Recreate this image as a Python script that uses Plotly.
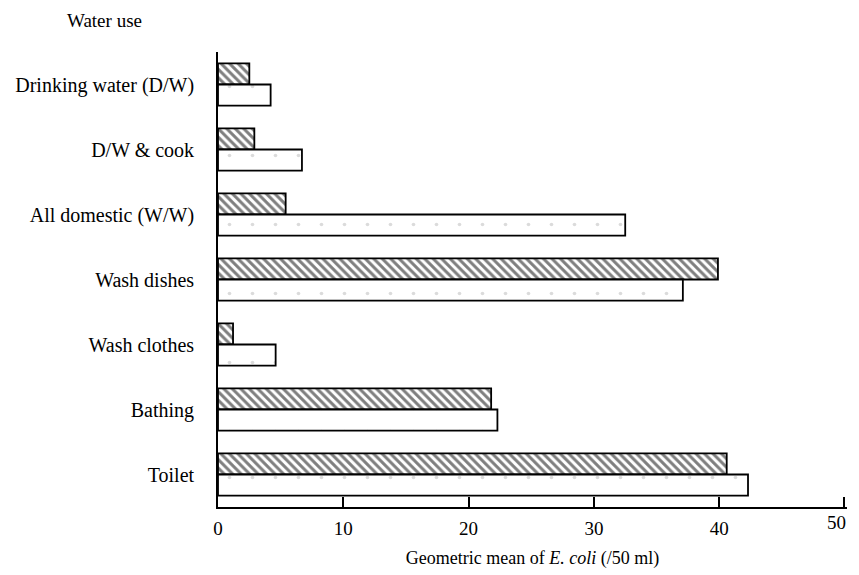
import plotly.graph_objects as go

categories = ["Drinking water (D/W)", "D/W & cook", "All domestic (W/W)", "Wash dishes",
              "Wash clothes", "Bathing", "Toilet"]
hatched_values = [2.5, 2.9, 5.4, 39.9, 1.2, 21.8, 40.6]
plain_values = [4.2, 6.7, 32.5, 37.1, 4.6, 22.3, 42.3]
x_tickvals = [0, 10, 20, 30, 40, 50]
x_ticktext = ["0", "10", "20", "30", "40", "50"]

FONT = "Liberation Serif"

fig = go.Figure()
fig.add_trace(go.Bar(
    y=categories, x=hatched_values, orientation="h", name="hatched",
    marker=dict(color="white", line=dict(color="black", width=1.8),
                pattern=dict(shape="\\", fgcolor="black", bgcolor="white",
                             size=6, solidity=0.5)),
))
fig.add_trace(go.Bar(
    y=categories, x=plain_values, orientation="h", name="plain",
    marker=dict(color="white", line=dict(color="black", width=1.8),
                pattern=dict(shape=".", fgcolor="#b8b8b8", bgcolor="white",
                             size=23, solidity=0.02)),
))

# the last tick label is drawn right-anchored so it stays inside the page
shown_ticktext = x_ticktext[:-1] + [""]

fig.update_layout(
    width=851, height=567,
    margin=dict(l=210, r=12, t=44, b=68, autoexpand=False),
    paper_bgcolor="white", plot_bgcolor="white",
    barmode="group", bargap=0.35, bargroupgap=0.0,
    showlegend=False,
    font=dict(family=FONT, size=20, color="black"),
    annotations=[
        dict(text="Water use", xref="paper", yref="paper",
             x=-0.243, y=1.07, xanchor="left", yanchor="middle",
             showarrow=False, font=dict(family=FONT, size=19)),
        dict(text=x_ticktext[-1], xref="x", yref="paper",
             x=x_tickvals[-1], y=0, xanchor="right", yanchor="top",
             xshift=4, yshift=-3, showarrow=False,
             font=dict(family=FONT, size=19)),
    ],
)
fig.update_xaxes(
    range=[0, 50.2], tickvals=x_tickvals, ticktext=shown_ticktext,
    showline=True, linecolor="black", linewidth=1.8,
    ticks="inside", ticklen=10, tickcolor="black", tickwidth=1.8,
    showgrid=False, zeroline=False, ticklabelstandoff=3, automargin=False,
    tickfont=dict(family=FONT, size=19),
    title=dict(text="Geometric mean of <i>E. coli</i> (/50 ml)", standoff=14,
               font=dict(family=FONT, size=18)),
)
fig.update_yaxes(
    autorange="reversed", showline=True, linecolor="black", linewidth=1.8,
    ticks="", showgrid=False, ticklabelstandoff=18, automargin=False,
    tickfont=dict(family=FONT, size=20),
)

fig.write_html("out.html")
